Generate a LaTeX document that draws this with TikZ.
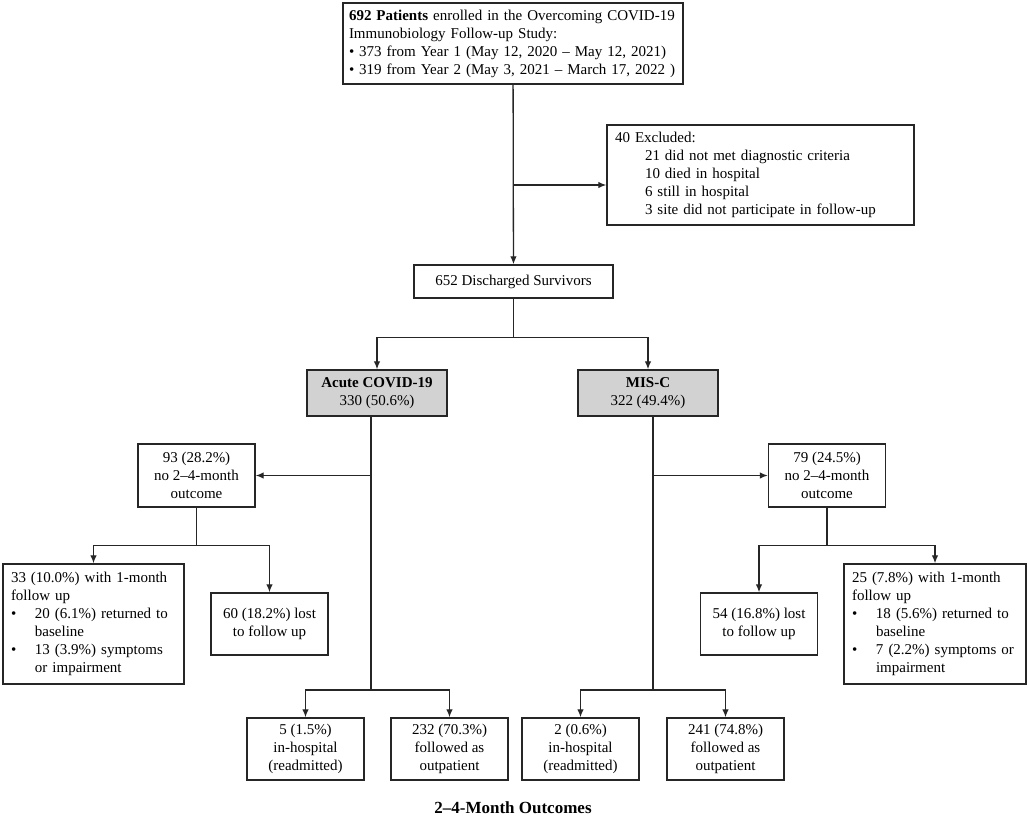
\documentclass[tikz,border=0pt]{standalone}
\usepackage{fontspec}
\setmainfont{Liberation Serif}
\usetikzlibrary{arrows.meta}
\usetikzlibrary{positioning}

\begin{document}
\begin{tikzpicture}[x=1pt, y=-1pt,
        box/.style={draw=black!85, line width=1.4pt, fill=white, inner xsep=8pt, inner ysep=3pt, font=\fontsize{15}{18}\selectfont},
        grp/.style={box, fill=gray!35},
        arr/.style={-{Latex[length=8pt,width=6.5pt]}, line width=1.3pt, draw=black!85},
        ln/.style={line width=1.3pt, draw=black!85}]
            % Enrolment and follow-up flow
            \fill[white] (0,0) rectangle (1029,818);
            \useasboundingbox (0,0) rectangle (1029,818);

            \node[box, inner xsep=6pt, text width=328pt, minimum height=81pt, align=left] (enrolled) at (513,43.5) {\textbf{692 Patients} enrolled in the Overcoming COVID-19\\Immunobiology Follow-up Study:\\•\ 373 from Year 1 (May 12, 2020 – May 12, 2021)\\•\ 319 from Year 2 (May 3, 2021 – March 17, 2022 )};
            \node[box, text width=291pt, minimum height=100pt, align=left] (excluded) at (760.5,175) {40 Excluded:\\\hspace*{30pt}21 did not met diagnostic criteria\\\hspace*{30pt}10 died in hospital\\\hspace*{30pt}6 still in hospital\\\hspace*{30pt}3 site did not participate in follow-up};
            \node[box, minimum width=199pt, minimum height=33pt] (disch) at (513.5,281.5) {652 Discharged Survivors};

            \node[grp, minimum width=140pt, minimum height=46pt, align=center] (acute) at (377,393) {\textbf{Acute COVID-19}\\330 (50.6\%)};
            \node[grp, minimum width=140pt, minimum height=46pt, align=center] (misc) at (648,393) {\textbf{MIS-C}\\322 (49.4\%)};

            \node[box, minimum width=117pt, minimum height=63pt, align=center] (noacute) at (196.5,475.5) {93 (28.2\%)\\no 2–4-month\\outcome};
            \node[box, minimum width=117pt, minimum height=63pt, align=center] (nomisc) at (827,475.5) {79 (24.5\%)\\no 2–4-month\\outcome};

            \node[box, text width=165pt, minimum height=120pt, align=left] (onemoA) at (93.5,624) {33 (10.0\%) with 1-month\\follow up\\\makebox[24pt][l]{•}20 (6.1\%) returned to\\\hspace*{24pt}baseline\\\makebox[24pt][l]{•}13 (3.9\%) symptoms\\\hspace*{24pt}or impairment};
            \node[box, minimum width=117pt, minimum height=62pt, align=center] (lostA) at (269.5,624) {60 (18.2\%) lost\\to follow up};
            \node[box, minimum width=117pt, minimum height=62pt, align=center] (lostB) at (759,624) {54 (16.8\%) lost\\to follow up};
            \node[box, text width=166pt, minimum height=120pt, align=left] (onemoB) at (935,624) {25 (7.8\%) with 1-month\\follow up\\\makebox[24pt][l]{•}18 (5.6\%) returned to\\\hspace*{24pt}baseline\\\makebox[24pt][l]{•}7 (2.2\%) symptoms or\\\hspace*{24pt}impairment};

            \node[box, minimum width=117pt, minimum height=62pt, align=center] (hospA) at (305.5,749) {5 (1.5\%)\\in-hospital\\(readmitted)};
            \node[box, minimum width=117pt, minimum height=62pt, align=center] (outpA) at (449.5,749) {232 (70.3\%)\\followed as\\outpatient};
            \node[box, minimum width=117pt, minimum height=62pt, align=center] (hospB) at (580.5,749) {2 (0.6\%)\\in-hospital\\(readmitted)};
            \node[box, minimum width=117pt, minimum height=62pt, align=center] (outpB) at (725.5,749) {241 (74.8\%)\\followed as\\outpatient};

            \node[font=\fontsize{17}{20}\selectfont\bfseries] (outcomes) at (513,808) {2–4-Month Outcomes};

            \coordinate (exclfork) at (513,185);
            \draw[arr] (enrolled) -- (disch);
            \draw[arr] (exclfork) -- (exclfork -| excluded.west);

            \draw[ln] (disch.south) -- ++(0,39) coordinate (split);
            \draw[arr] (split) -| (acute.north);
            \draw[arr] (split) -| (misc.north);

            \coordinate (acutetop) at ([xshift=-6pt]acute.south);
            \coordinate (acutebot) at (371,690);
            \draw[ln] (acutetop) -- (acutebot);
            \draw[arr] (acutetop |- noacute.east) -- (noacute.east);
            \draw[arr] (acutebot) -| (hospA.north);
            \draw[arr] (acutebot) -| (outpA.north);

            \coordinate (misctop) at ([xshift=5pt]misc.south);
            \coordinate (miscbot) at (653,690);
            \draw[ln] (misctop) -- (miscbot);
            \draw[arr] (misctop |- nomisc.west) -- (nomisc.west);
            \draw[arr] (miscbot) -| (hospB.north);
            \draw[arr] (miscbot) -| (outpB.north);

            \draw[ln] (noacute.south) -- ++(0,38) coordinate (splitA);
            \draw[arr] (splitA) -| (onemoA.north);
            \draw[arr] (splitA) -| (lostA.north);
            \draw[ln] (nomisc.south) -- ++(0,38) coordinate (splitB);
            \draw[arr] (splitB) -| (lostB.north);
            \draw[arr] (splitB) -| (onemoB.north);
        \end{tikzpicture}
\end{document}
